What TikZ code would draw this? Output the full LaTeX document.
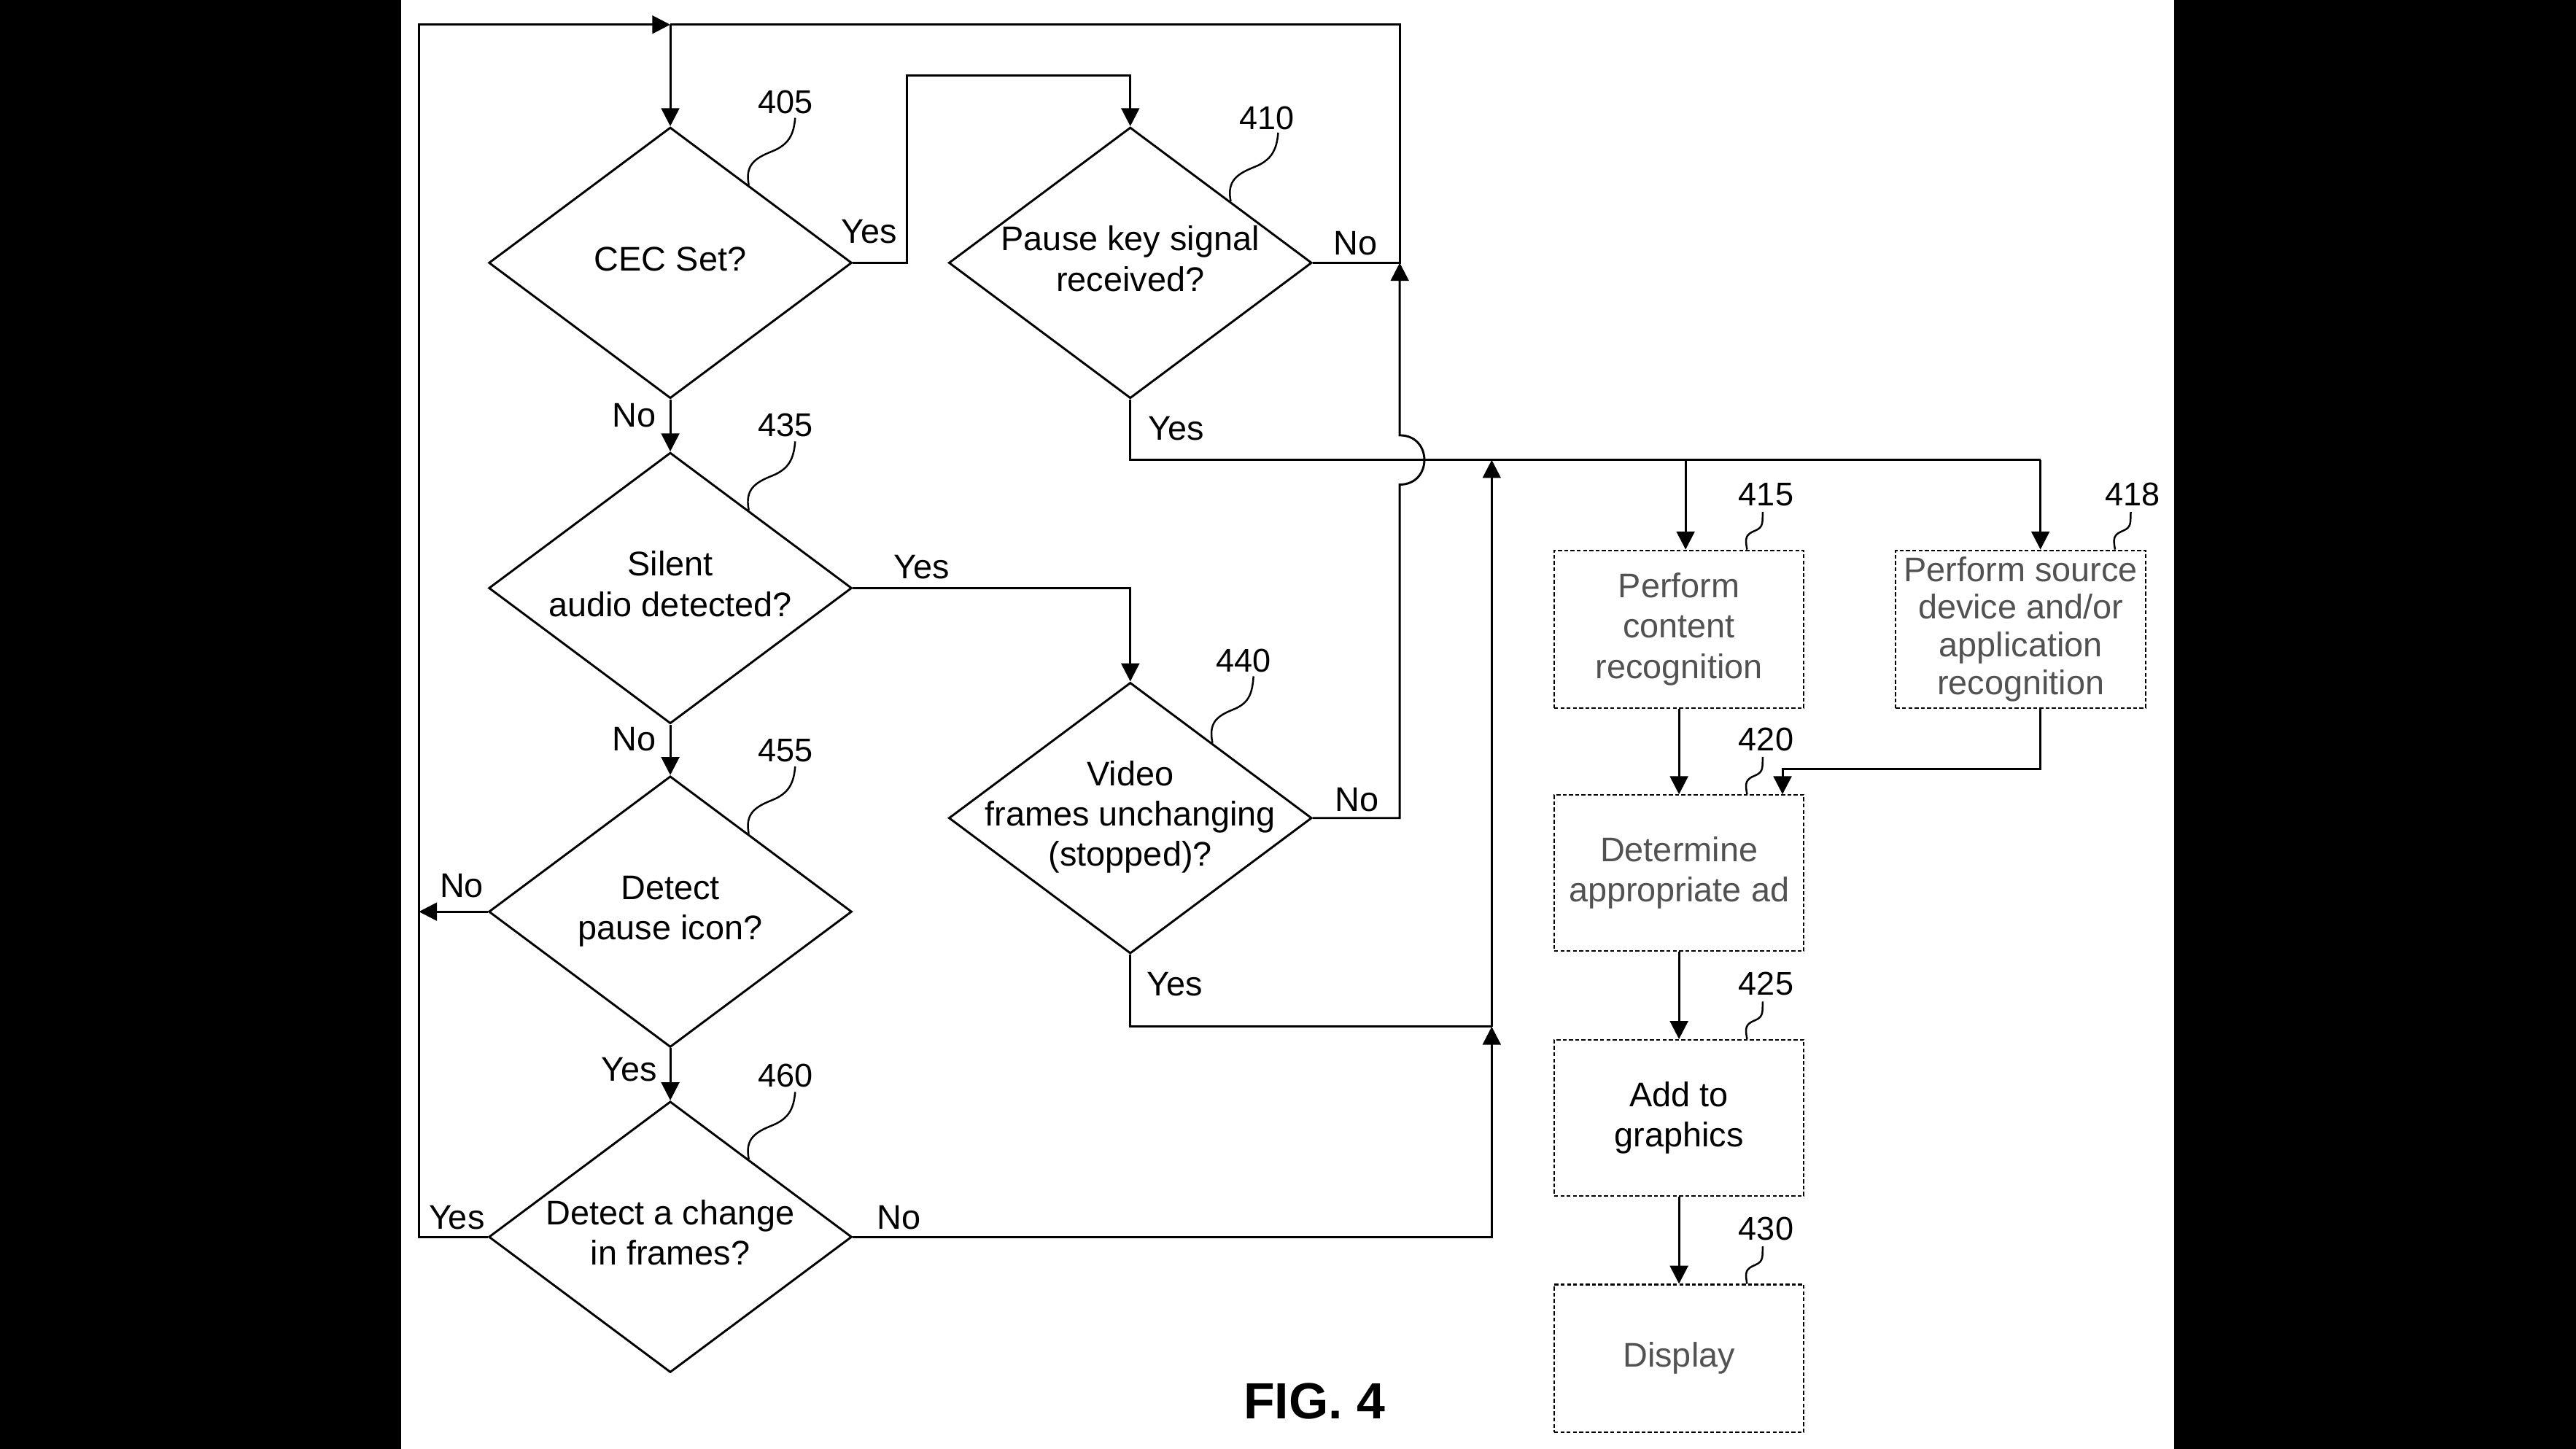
\documentclass[tikz,border=0pt]{standalone}
\usepackage{fontspec}
\setmainfont{Liberation Sans}
\usetikzlibrary{arrows.meta,shapes.geometric,calc}
\newcommand\dtxt[1]{\makebox[0pt]{\begin{tabular}{@{}c@{}}#1\end{tabular}}}
\begin{document}
\begin{tikzpicture}[x=1pt,y=-1pt,line width=1.3pt,
  every node/.style={font=\fontsize{20.8}{24.5}\selectfont, inner sep=0pt},
  dia/.style={draw, diamond, minimum width=221pt, minimum height=165pt, line width=1.3pt},
  box/.style={draw, rectangle, minimum width=152pt, minimum height=96pt, line width=0.9pt, dash pattern=on 2.4pt off 1.4pt, align=center, text=black!68},
  arr/.style={-{Triangle[length=11pt,width=11pt]}},
  num/.style={font=\fontsize{20}{24}\selectfont},
  leader/.style={line width=1.1pt, to path={let \p1=(\tikztostart), \p2=(\tikztotarget), \p3=($(\p1)!0.5!(\p2)$), \n1={\y1-\y2} in .. controls ($(\p1)+(-0.02*\n1,-0.25*\n1)$) and ($(\p3)+(0.25*\n1,0.1*\n1)$) .. (\p3) .. controls ($(\p3)+(-0.25*\n1,-0.1*\n1)$) and ($(\p2)+(-0.06*\n1,0.3*\n1)$) .. (\p2)}}
]
\useasboundingbox (0,0) rectangle (1568,882);
\fill[white] (244,0) rectangle (1323.5,882);
\fill[black] (0,0) rectangle (244,882);
\fill[black] (1323.5,0) rectangle (1568,882);

% decisions
\node[dia] (d405) at (408,160) {\dtxt{CEC Set?}};
\node[dia] (d410) at (688,160) {\dtxt{Pause key signal\\received?}};
\node[dia] (d435) at (408,358) {\dtxt{Silent\\audio detected?}};
\node[dia] (d440) at (688,498) {\dtxt{Video\\frames unchanging\\(stopped)?}};
\node[dia] (d455) at (408,555) {\dtxt{Detect\\pause icon?}};
\node[dia] (d460) at (408,753) {\dtxt{Detect a change\\in frames?}};

% process boxes
\node[box] (b415) at (1022,383) {Perform\\content\\recognition};
\node[box, font=\fontsize{20.8}{23}\selectfont] (b418) at (1230,383) {Perform source\\device and/or\\application\\recognition};
\node[box, minimum height=95pt] (b420) at (1022,531.5) {Determine\\appropriate ad};
\node[box, minimum height=95pt, text=black] (b425) at (1022,680.5) {Add to\\graphics};
\node[box, minimum height=90pt] (b430) at (1022,827) {Display};

% reference numbers
\node[num] (n405) at (478,62) {405};
\node[num] (n410) at (771,72) {410};
\node[num] (n435) at (478,259) {435};
\node[num] (n440) at (757,402) {440};
\node[num] (n455) at (478,457) {455};
\node[num] (n460) at (478,655) {460};
\node[num] (n415) at (1075,301) {415};
\node[num] (n418) at (1298,301) {418};
\node[num] (n420) at (1075,450) {420};
\node[num] (n425) at (1075,599) {425};
\node[num] (n430) at (1075,748) {430};

\draw[leader] ($(n405.south)+(6,2)$) to ($(d405.north)!0.43!(d405.east)$);
\draw[leader] ($(n410.south)+(7,1)$) to ($(d410.north)!0.55!(d410.east)$);
\draw[leader] ($(n435.south)+(6,2)$) to ($(d435.north)!0.43!(d435.east)$);
\draw[leader] ($(n440.south)+(6,2)$) to ($(d440.north)!0.45!(d440.east)$);
\draw[leader] ($(n455.south)+(6,2)$) to ($(d455.north)!0.43!(d455.east)$);
\draw[leader] ($(n460.south)+(6,2)$) to ($(d460.north)!0.43!(d460.east)$);
\draw[leader] ($(n415.south)+(-2,3)$) to ($(b415.north east)+(-35,0)$);
\draw[leader] ($(n418.south)+(-1,3)$) to ($(b418.north east)+(-19,0)$);
\draw[leader] ($(n420.south)+(-2,3)$) to ($(b420.north east)+(-35,0)$);
\draw[leader] ($(n425.south)+(-2,3)$) to ($(b425.north east)+(-35,0)$);
\draw[leader] ($(n430.south)+(-2,3)$) to ($(b430.north east)+(-35,0)$);

% helper coordinates
\coordinate (top) at (408,15);
\coordinate (tr) at (852,15);
\coordinate (tl) at (255,15);
\coordinate (j410) at (852,160);
\coordinate (hend) at (1242,280);
\coordinate (br415) at (1026,280);
\coordinate (c908) at (908,280);
\coordinate (m908) at (908,625);
\coordinate (k420) at (1085,468);

% connectors
\draw[arr] (d460.west) -| (tl) -- (top);
\draw (d410.east) -- (j410) -- (tr) -- (top);
\draw[arr] (top) -- (d405.north);
\draw[arr] (d405.east) -| (552,46) -| (d410.north);
\draw[arr] (d405.south) -- (d435.north);
\draw (d410.south) |- (hend);
\draw[arr] (br415) -- (br415 |- b415.north);
\draw[arr] (hend) -- (hend |- b418.north);
\draw[arr] (d435.east) -| (d440.north);
\draw[arr] (d435.south) -- (d455.north);
\draw[arr] (d440.east) -- (d440.east -| j410) -- (852,295) .. controls (872,295) and (872,265) .. (852,265) -- (j410);
\draw (d440.south) |- (m908);
\draw[arr] (d455.west) -- (d455.west -| tl);
\draw[arr] (d455.south) -- (d460.north);
\draw[arr] (d460.east) -| (m908);
\draw[arr] (m908) -- (c908);
\draw[arr] (b415.south) -- (b420.north);
\draw[arr] (hend |- b418.south) |- (k420) -- (k420 |- b420.north);
\draw[arr] (b420.south) -- (b425.north);
\draw[arr] (b425.south) -- (b430.north);

% branch labels
\node (y405) at (529,141) {Yes};
\node (n405b) at (386,253) {No};
\node (n410r) at (825,148) {No};
\node (y410) at (716,261) {Yes};
\node (y435) at (561,345) {Yes};
\node (n435b) at (386,450) {No};
\node (n440r) at (826,487) {No};
\node (y440) at (715,599) {Yes};
\node (n455l) at (281,539) {No};
\node (y455) at (383,651) {Yes};
\node (y460) at (278,741) {Yes};
\node (n460r) at (547,741) {No};

\node[font=\bfseries\fontsize{31}{36}\selectfont] (fig) at (800,853) {FIG. 4};
\end{tikzpicture}
\end{document}
